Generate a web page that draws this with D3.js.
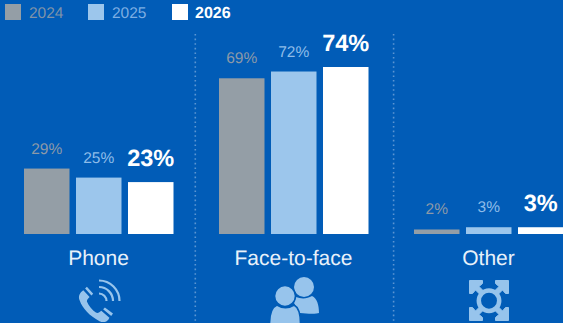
<!DOCTYPE html>
<html>
<head>
<meta charset="utf-8">
<script src="https://cdn.jsdelivr.net/npm/d3@7/dist/d3.min.js"></script>
<style>
html,body{margin:0;padding:0;background:#015cb7;overflow:hidden}
text{font-family:"Liberation Sans",Arial,sans-serif;text-rendering:geometricPrecision}
</style>
</head>
<body>
<svg id="chart" width="563" height="323"></svg>
<script>
const categories = ["Phone", "Face-to-face", "Other"];
const years = ["2024", "2025", "2026"];
const values2024 = [29, 69, 2];
const values2025 = [25, 72, 3];
const values2026 = [23, 74, 3];
const seriesValues = [values2024, values2025, values2026];

const background = "#015cb7";
const barFill = ["#949ea6", "#9cc6ec", "#ffffff"];
const labelFill = ["#8c99a8", "#8fbce9", "#ffffff"];
const legendFill = ["#7f93a9", "#7daee3", "#ffffff"];
const iconFill = "#97c4ec";

const svg = d3.select("#chart");
const baseline = 234;

const x = d3.scaleBand().domain(categories).range([1, 586]);
const inner = d3.scaleBand().domain(years).range([23, 172.5]).paddingInner(0.125);
const y = d3.scaleLinear().domain([0, 74]).range([baseline, 67]);

// Dotted separators between the groups
const sepX = [195.3, 393.6];
svg.selectAll("line.sep").data(sepX).join("line")
  .attr("class", "sep")
  .attr("x1", d => d).attr("x2", d => d)
  .attr("y1", 34).attr("y2", 323)
  .attr("stroke", "#5c95d2").attr("stroke-width", 1.6)
  .attr("stroke-dasharray", "1.6 3");

// Legend
const legendX = [5, 88, 172];
const legend = svg.selectAll("g.legend").data(years).join("g")
  .attr("class", "legend")
  .attr("transform", (d, i) => `translate(${legendX[i]},4)`);
legend.append("rect").attr("width", 16).attr("height", 16)
  .attr("fill", (d, i) => barFill[i]);
legend.append("text").attr("x", (d, i) => i === 2 ? 23 : 24).attr("y", 14)
  .attr("font-size", (d, i) => i === 2 ? 16 : 15.5)
  .attr("font-weight", (d, i) => i === 2 ? 700 : 400)
  .attr("fill", (d, i) => legendFill[i])
  .text(d => d);

// Bars and value labels
const groups = svg.selectAll("g.cat").data(categories).join("g")
  .attr("class", "cat")
  .attr("transform", d => `translate(${x(d)},0)`);

years.forEach((yr, s) => {
  groups.append("rect")
    .attr("x", inner(yr))
    .attr("width", inner.bandwidth())
    .attr("y", (d, i) => y(seriesValues[s][i]))
    .attr("height", (d, i) => baseline - y(seriesValues[s][i]))
    .attr("fill", barFill[s]);
  groups.append("text")
    .attr("x", inner(yr) + inner.bandwidth() / 2)
    .attr("y", (d, i) => y(seriesValues[s][i]) - (s === 2 ? 16 : 15))
    .attr("text-anchor", "middle")
    .attr("font-size", s === 2 ? 23.5 : 15.5)
    .attr("font-weight", s === 2 ? 700 : 400)
    .attr("fill", labelFill[s])
    .text((d, i) => seriesValues[s][i] + "%");
});

// Category names
groups.append("text")
  .attr("x", x.bandwidth() / 2)
  .attr("y", 265)
  .attr("text-anchor", "middle")
  .attr("font-size", 21)
  .attr("fill", "#e8f1fa")
  .text(d => d);

// Phone icon: handset with three signal arcs
const phone = svg.append("g").attr("transform", "translate(78,278)").attr("fill", iconFill);
phone.append("g").attr("transform", "translate(0.8,6.2) scale(0.9,0.86)").append("path").attr("d",
  "M5 7 C1 10 -1 14 1 19 C4 28 12 37 23 43 C27 45 31 44 33 41 L34 39 L25 31 C23 33 21 34 19 33 C15 30 11 25 9 20 C9 18 10 17 12 15 L5 7 Z M7 5 L14 13 L16 11 L9 3 Z M27 29 L36 37 L38 34 L29 27 Z");
const arcs = phone.append("g").attr("fill", "none").attr("stroke", iconFill).attr("stroke-width", 2.2);
[7.5, 14, 20.5].forEach(r => {
  arcs.append("path").attr("d", `M21 ${23 - r} A${r} ${r} 0 0 1 ${21 + r} 23`);
});

// People icon: back figure, then front figure with a gap around it
const people = svg.append("g").attr("transform", "translate(270,277)").attr("fill", iconFill);
people.append("circle").attr("cx", 34).attr("cy", 10).attr("r", 10);
people.append("path").attr("d", "M26 20 C31 22 37 22 42 19 C47 21 49 28 49 36 C47 37 38 37 30 36 L24 26 Z");
const front = people.append("g").attr("stroke", background).attr("stroke-width", 1.6);
front.append("circle").attr("cx", 15).attr("cy", 19).attr("r", 10.5);
front.append("path").attr("d", "M7 28 C12 31.5 19 31.5 24 28 C28 30 30.5 36 30.5 47 L-0.5 47 C-0.5 36 2 30 7 28 Z");

// Expand icon: ring with four corner arrows
const other = svg.append("g").attr("transform", "translate(468,279)");
other.append("circle").attr("cx", 21).attr("cy", 21.7).attr("r", 10.2)
  .attr("fill", "none").attr("stroke", iconFill).attr("stroke-width", 4.5);
[[0.5, 0.5, 0], [41.5, 0.5, 90], [41.5, 42.5, 180], [0.5, 42.5, 270]].forEach(([cx, cy, rot]) => {
  other.append("path")
    .attr("transform", `translate(${cx},${cy}) rotate(${rot})`)
    .attr("fill", iconFill)
    .attr("stroke", iconFill).attr("stroke-width", 1).attr("stroke-linejoin", "round")
    .attr("d", "M1 1 L14 1 L14 4 L10.5 7 L16 12.5 L12.5 16 L7 10.5 L4 14 L1 14 Z");
});
</script>
</body>
</html>
